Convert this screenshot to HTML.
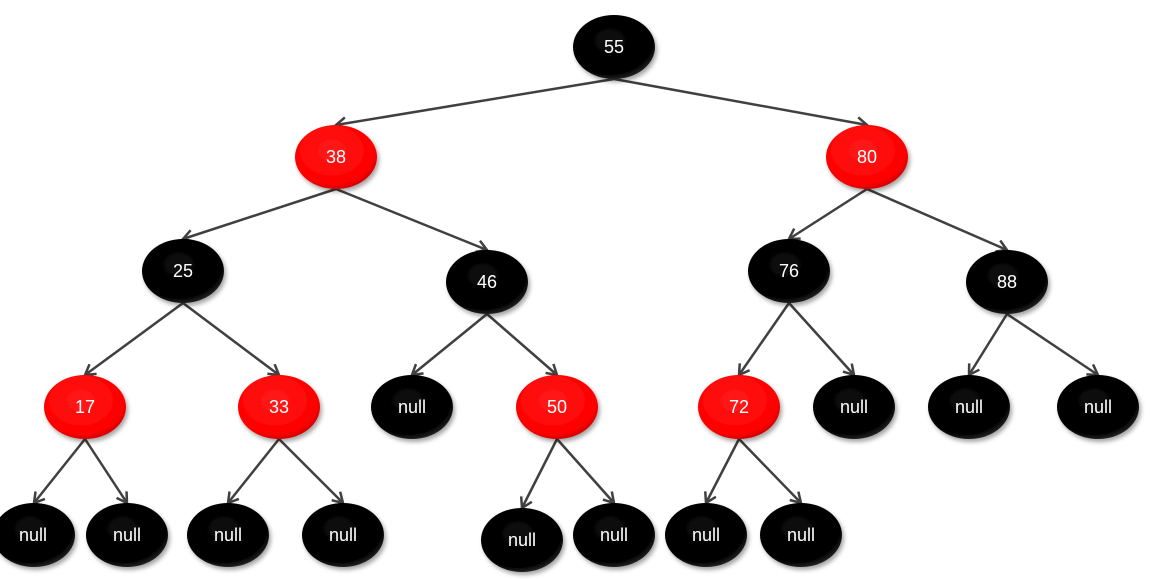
<!DOCTYPE html>
<html><head><meta charset="utf-8"><style>
html,body{margin:0;padding:0;background:#fff;}
svg{display:block;}
text{font-family:"Liberation Sans",sans-serif;font-size:18px;fill:#fff;text-anchor:middle;dominant-baseline:central;}
</style></head><body>
<svg width="1156" height="579" viewBox="0 0 1156 579" xmlns="http://www.w3.org/2000/svg">
<defs>
<marker id="a" markerWidth="14" markerHeight="14" refX="11" refY="7" orient="auto" markerUnits="userSpaceOnUse">
<path d="M1,1 L11,7 L1,13" fill="none" stroke="#404040" stroke-width="2.5"/>
</marker>
<radialGradient id="r" cx="45%" cy="40%" r="65%"><stop offset="0" stop-color="#ff1a1a"/><stop offset="0.8" stop-color="#f00"/><stop offset="1" stop-color="#b00"/></radialGradient>
<radialGradient id="b" cx="45%" cy="40%" r="65%"><stop offset="0" stop-color="#0a0a0a"/><stop offset="0.8" stop-color="#000"/><stop offset="1" stop-color="#333"/></radialGradient>
<filter id="s" x="-20%" y="-20%" width="150%" height="150%"><feDropShadow dx="2" dy="3" stdDeviation="2" flood-color="#000" flood-opacity="0.35"/></filter>
</defs>
<g stroke="#404040" stroke-width="2.5" fill="none" marker-end="url(#a)">
<line x1="614" y1="79" x2="336" y2="125"/>
<line x1="614" y1="79" x2="867" y2="125"/>
<line x1="336" y1="189" x2="183" y2="239"/>
<line x1="336" y1="189" x2="487" y2="250"/>
<line x1="867" y1="189" x2="789" y2="239"/>
<line x1="867" y1="189" x2="1007" y2="250"/>
<line x1="183" y1="303" x2="85" y2="375"/>
<line x1="183" y1="303" x2="279" y2="375"/>
<line x1="487" y1="314" x2="412" y2="375"/>
<line x1="487" y1="314" x2="557" y2="375"/>
<line x1="789" y1="303" x2="739" y2="375"/>
<line x1="789" y1="303" x2="854" y2="375"/>
<line x1="1007" y1="314" x2="969" y2="375"/>
<line x1="1007" y1="314" x2="1098" y2="375"/>
<line x1="85" y1="439" x2="34" y2="503"/>
<line x1="85" y1="439" x2="127" y2="503"/>
<line x1="279" y1="439" x2="228" y2="503"/>
<line x1="279" y1="439" x2="343" y2="503"/>
<line x1="557" y1="439" x2="522" y2="508"/>
<line x1="557" y1="439" x2="614" y2="503"/>
<line x1="739" y1="439" x2="706" y2="503"/>
<line x1="739" y1="439" x2="801" y2="503"/>
</g>
<g filter="url(#s)">
<ellipse cx="614" cy="47" rx="41" ry="32" fill="url(#b)"/>
<ellipse cx="336" cy="157" rx="41" ry="32" fill="url(#r)"/>
<ellipse cx="867" cy="157" rx="41" ry="32" fill="url(#r)"/>
<ellipse cx="183" cy="271" rx="41" ry="32" fill="url(#b)"/>
<ellipse cx="487" cy="282" rx="41" ry="32" fill="url(#b)"/>
<ellipse cx="789" cy="271" rx="41" ry="32" fill="url(#b)"/>
<ellipse cx="1007" cy="282" rx="41" ry="32" fill="url(#b)"/>
<ellipse cx="85" cy="407" rx="41" ry="32" fill="url(#r)"/>
<ellipse cx="279" cy="407" rx="41" ry="32" fill="url(#r)"/>
<ellipse cx="412" cy="407" rx="41" ry="32" fill="url(#b)"/>
<ellipse cx="557" cy="407" rx="41" ry="32" fill="url(#r)"/>
<ellipse cx="739" cy="407" rx="41" ry="32" fill="url(#r)"/>
<ellipse cx="854" cy="407" rx="41" ry="32" fill="url(#b)"/>
<ellipse cx="969" cy="407" rx="41" ry="32" fill="url(#b)"/>
<ellipse cx="1098" cy="407" rx="41" ry="32" fill="url(#b)"/>
<ellipse cx="34" cy="535" rx="41" ry="32" fill="url(#b)"/>
<ellipse cx="127" cy="535" rx="41" ry="32" fill="url(#b)"/>
<ellipse cx="228" cy="535" rx="41" ry="32" fill="url(#b)"/>
<ellipse cx="343" cy="535" rx="41" ry="32" fill="url(#b)"/>
<ellipse cx="522" cy="540" rx="41" ry="32" fill="url(#b)"/>
<ellipse cx="614" cy="535" rx="41" ry="32" fill="url(#b)"/>
<ellipse cx="706" cy="535" rx="41" ry="32" fill="url(#b)"/>
<ellipse cx="801" cy="535" rx="41" ry="32" fill="url(#b)"/>
</g>
<text x="614" y="47">55</text>
<text x="336" y="157">38</text>
<text x="867" y="157">80</text>
<text x="183" y="271">25</text>
<text x="487" y="282">46</text>
<text x="789" y="271">76</text>
<text x="1007" y="282">88</text>
<text x="85" y="407">17</text>
<text x="279" y="407">33</text>
<text x="412" y="407">null</text>
<text x="557" y="407">50</text>
<text x="739" y="407">72</text>
<text x="854" y="407">null</text>
<text x="969" y="407">null</text>
<text x="1098" y="407">null</text>
<text x="33" y="535">null</text>
<text x="127" y="535">null</text>
<text x="228" y="535">null</text>
<text x="343" y="535">null</text>
<text x="522" y="540">null</text>
<text x="614" y="535">null</text>
<text x="706" y="535">null</text>
<text x="801" y="535">null</text>
</svg>
</body></html>
